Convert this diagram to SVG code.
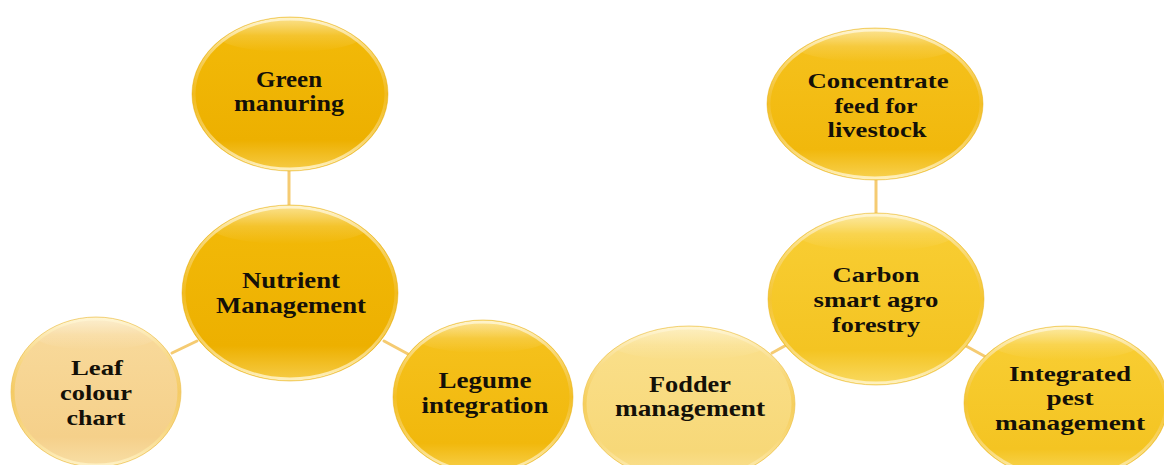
<svg xmlns="http://www.w3.org/2000/svg" width="1164" height="465" viewBox="0 0 1164 465">
  <style>
    .lbl { font-family: "Liberation Serif", "Times New Roman", serif; font-weight: bold; font-size: 24px; fill: #141008; text-anchor: middle; }
    .lbl3 { font-size: 22px; }
    .link { stroke: #f5cb72; stroke-width: 3; fill: none; stroke-linecap: round; }
    .rim { fill: none; stroke: url(#rimGrad); stroke-width: 3; }
    .edge { fill: none; stroke: #e9b62a; stroke-opacity: 0.55; stroke-width: 1; }
    .gloss { fill: url(#glossGrad); }
  </style>
  <defs>
    <!-- body fills: light rim at top, solid body, soft reflection at the bottom -->
    <linearGradient id="gDeep" x1="0" y1="0" x2="0" y2="1">
      <stop offset="0" stop-color="#f9d45a"/>
      <stop offset="0.12" stop-color="#f2b908"/>
      <stop offset="0.8" stop-color="#edb000"/>
      <stop offset="1" stop-color="#f6cc48"/>
    </linearGradient>
    <linearGradient id="gGold" x1="0" y1="0" x2="0" y2="1">
      <stop offset="0" stop-color="#fad865"/>
      <stop offset="0.12" stop-color="#f5c11c"/>
      <stop offset="0.8" stop-color="#f1b80c"/>
      <stop offset="1" stop-color="#f8d252"/>
    </linearGradient>
    <linearGradient id="gYellow" x1="0" y1="0" x2="0" y2="1">
      <stop offset="0" stop-color="#fbe07a"/>
      <stop offset="0.12" stop-color="#f8cd32"/>
      <stop offset="0.8" stop-color="#f4c422"/>
      <stop offset="1" stop-color="#f9da62"/>
    </linearGradient>
    <linearGradient id="gPeach" x1="0" y1="0" x2="0" y2="1">
      <stop offset="0" stop-color="#fbe6b8"/>
      <stop offset="0.12" stop-color="#f8d99a"/>
      <stop offset="0.8" stop-color="#f5d08a"/>
      <stop offset="1" stop-color="#f8dfa6"/>
    </linearGradient>
    <linearGradient id="gPale" x1="0" y1="0" x2="0" y2="1">
      <stop offset="0" stop-color="#fce9a6"/>
      <stop offset="0.12" stop-color="#fadf8a"/>
      <stop offset="0.8" stop-color="#f7d878"/>
      <stop offset="1" stop-color="#fbe39a"/>
    </linearGradient>
    <linearGradient id="rimGrad" x1="0" y1="0" x2="0" y2="1">
      <stop offset="0" stop-color="#fff6d6" stop-opacity="0.9"/>
      <stop offset="0.5" stop-color="#f3c23a" stop-opacity="0.5"/>
      <stop offset="1" stop-color="#fff3c8" stop-opacity="0.9"/>
    </linearGradient>
    <linearGradient id="glossGrad" x1="0" y1="0" x2="0" y2="1">
      <stop offset="0" stop-color="#ffffff" stop-opacity="0.3"/>
      <stop offset="1" stop-color="#ffffff" stop-opacity="0"/>
    </linearGradient>
  </defs>

  <g id="connectors">
    <line class="link" x1="289" y1="170" x2="289" y2="207"/>
    <line class="link" x1="172" y1="353" x2="197" y2="341"/>
    <line class="link" x1="384" y1="341" x2="408" y2="354"/>
    <line class="link" x1="876" y1="178" x2="876" y2="215"/>
    <line class="link" x1="772" y1="353" x2="790" y2="343"/>
    <line class="link" x1="966" y1="346" x2="986" y2="357"/>
  </g>

  <g id="green-manuring">
    <ellipse cx="290" cy="94" rx="98" ry="77" fill="url(#gDeep)"/>
    <ellipse class="gloss" cx="290" cy="36" rx="72" ry="16"/>
    <ellipse class="rim" cx="290" cy="94" rx="96" ry="75"/>
    <ellipse class="edge" cx="290" cy="94" rx="98" ry="77"/>
    <text class="lbl" x="289" y="87" textLength="66" lengthAdjust="spacingAndGlyphs">Green</text>
    <text class="lbl" x="289" y="111" textLength="110" lengthAdjust="spacingAndGlyphs">manuring</text>
  </g>

  <g id="nutrient-management">
    <ellipse cx="290" cy="293" rx="108" ry="88" fill="url(#gDeep)"/>
    <ellipse class="gloss" cx="290" cy="226" rx="80" ry="18"/>
    <ellipse class="rim" cx="290" cy="293" rx="106" ry="86"/>
    <ellipse class="edge" cx="290" cy="293" rx="108" ry="88"/>
    <text class="lbl" x="291" y="288" textLength="98" lengthAdjust="spacingAndGlyphs">Nutrient</text>
    <text class="lbl" x="291" y="313" textLength="150" lengthAdjust="spacingAndGlyphs">Management</text>
  </g>

  <g id="leaf-colour-chart">
    <ellipse cx="96" cy="392" rx="85" ry="75" fill="url(#gPeach)"/>
    <ellipse class="gloss" cx="96" cy="335" rx="62" ry="15"/>
    <ellipse class="rim" cx="96" cy="392" rx="83" ry="73"/>
    <ellipse class="edge" cx="96" cy="392" rx="85" ry="75"/>
    <text class="lbl lbl3" x="97" y="375" textLength="52" lengthAdjust="spacingAndGlyphs">Leaf</text>
    <text class="lbl lbl3" x="96" y="400" textLength="72" lengthAdjust="spacingAndGlyphs">colour</text>
    <text class="lbl lbl3" x="96" y="425" textLength="59" lengthAdjust="spacingAndGlyphs">chart</text>
  </g>

  <g id="legume-integration">
    <ellipse cx="483" cy="397" rx="90" ry="77" fill="url(#gGold)"/>
    <ellipse class="gloss" cx="483" cy="338" rx="66" ry="15"/>
    <ellipse class="rim" cx="483" cy="397" rx="88" ry="75"/>
    <ellipse class="edge" cx="483" cy="397" rx="90" ry="77"/>
    <text class="lbl" x="485" y="388" textLength="93" lengthAdjust="spacingAndGlyphs">Legume</text>
    <text class="lbl" x="485" y="413" textLength="127" lengthAdjust="spacingAndGlyphs">integration</text>
  </g>

  <g id="concentrate-feed">
    <ellipse cx="875" cy="104" rx="108" ry="76" fill="url(#gGold)"/>
    <ellipse class="gloss" cx="875" cy="46" rx="80" ry="16"/>
    <ellipse class="rim" cx="875" cy="104" rx="106" ry="74"/>
    <ellipse class="edge" cx="875" cy="104" rx="108" ry="76"/>
    <text class="lbl lbl3" x="878" y="88" textLength="141" lengthAdjust="spacingAndGlyphs">Concentrate</text>
    <text class="lbl lbl3" x="876" y="113" textLength="83" lengthAdjust="spacingAndGlyphs">feed for</text>
    <text class="lbl lbl3" x="877" y="137" textLength="99" lengthAdjust="spacingAndGlyphs">livestock</text>
  </g>

  <g id="carbon-smart-agroforestry">
    <ellipse cx="876" cy="299" rx="108" ry="86" fill="url(#gYellow)"/>
    <ellipse class="gloss" cx="876" cy="233" rx="80" ry="18"/>
    <ellipse class="rim" cx="876" cy="299" rx="106" ry="84"/>
    <ellipse class="edge" cx="876" cy="299" rx="108" ry="86"/>
    <text class="lbl lbl3" x="876" y="282" textLength="87" lengthAdjust="spacingAndGlyphs">Carbon</text>
    <text class="lbl lbl3" x="876" y="307" textLength="125" lengthAdjust="spacingAndGlyphs">smart agro</text>
    <text class="lbl lbl3" x="876" y="332" textLength="88" lengthAdjust="spacingAndGlyphs">forestry</text>
  </g>

  <g id="fodder-management">
    <ellipse cx="689" cy="404" rx="106" ry="78" fill="url(#gPale)"/>
    <ellipse class="gloss" cx="689" cy="344" rx="78" ry="16"/>
    <ellipse class="rim" cx="689" cy="404" rx="104" ry="76"/>
    <ellipse class="edge" cx="689" cy="404" rx="106" ry="78"/>
    <text class="lbl" x="690" y="392" textLength="82" lengthAdjust="spacingAndGlyphs">Fodder</text>
    <text class="lbl" x="690" y="416" textLength="150" lengthAdjust="spacingAndGlyphs">management</text>
  </g>

  <g id="integrated-pest-management">
    <ellipse cx="1066" cy="403" rx="102" ry="77" fill="url(#gYellow)"/>
    <ellipse class="gloss" cx="1066" cy="344" rx="74" ry="16"/>
    <ellipse class="rim" cx="1066" cy="403" rx="100" ry="75"/>
    <ellipse class="edge" cx="1066" cy="403" rx="102" ry="77"/>
    <text class="lbl lbl3" x="1070" y="381" textLength="122" lengthAdjust="spacingAndGlyphs">Integrated</text>
    <text class="lbl lbl3" x="1070" y="405" textLength="47" lengthAdjust="spacingAndGlyphs">pest</text>
    <text class="lbl lbl3" x="1070" y="430" textLength="150" lengthAdjust="spacingAndGlyphs">management</text>
  </g>
</svg>
